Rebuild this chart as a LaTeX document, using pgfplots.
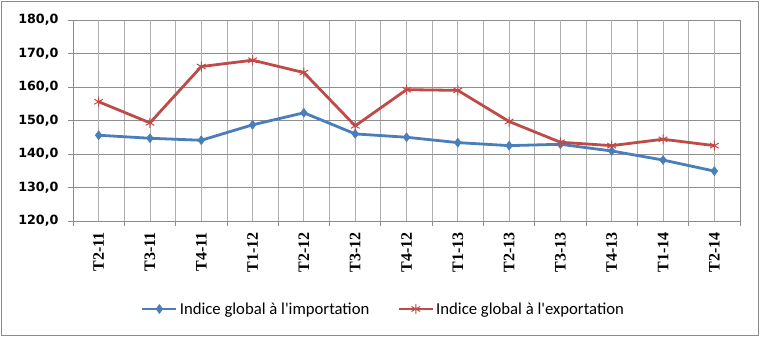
\documentclass[border=0pt]{standalone}
\usepackage{fontspec}
\setmainfont{Carlito}[Ligatures=TeXOff]
\newfontfamily\dvs{DejaVu Sans}
\newfontfamily\lser{Liberation Serif}
\usepackage{pgfplots}
\usepackage{pgfplotstable}
\pgfplotsset{compat=1.18}
\definecolor{impblue}{HTML}{4A7EBB}
\definecolor{expred}{HTML}{BE4B48}
\definecolor{hgrid}{HTML}{8E8E8E}
\definecolor{vgrid}{HTML}{B0B0B0}
\definecolor{framegray}{HTML}{8C8C8C}

\pgfplotstableread{
x imp exp
0 145.6 155.6
1 144.7 149.3
2 144.1 166.1
3 148.7 168.0
4 152.3 164.3
5 146.0 148.4
6 145.0 159.2
7 143.4 159.0
8 142.5 149.7
9 142.9 143.5
10 140.9 142.5
11 138.2 144.4
12 134.9 142.5
}\datatable

\begin{document}
\begin{tikzpicture}
\useasboundingbox (0pt,0pt) rectangle (761pt,337pt);
\draw[framegray, line width=1pt] (1.5pt,1.5pt) rectangle (758.5pt,335.5pt);
\begin{axis}[
  at={(73pt,116pt)}, anchor=south west,
  width=667pt, height=201pt, scale only axis,
  xmin=-0.5, xmax=12.5, ymin=120, ymax=180,
  ytick={120,130,...,180},
  xtick={-0.5,0.5,...,12.5}, xticklabels={},
  extra x ticks={0,1,...,12},
  extra x tick labels={T2-11,T3-11,T4-11,T1-12,T2-12,T3-12,T4-12,T1-13,T2-13,T3-13,T4-13,T1-14,T2-14},
  extra x tick style={major tick length=0pt, grid=major,
    tick label style={rotate=90, anchor=east, xshift=-8pt,
      font=\lser\bfseries\fontsize{16}{17}\selectfont}},
  tick pos=left, tick align=outside, major tick length=5pt,
  tick style={framegray, line width=0.8pt},
  axis line style={framegray, line width=0.8pt},
  xmajorgrids, ymajorgrids,
  major x grid style={vgrid, line width=0.8pt},
  major y grid style={hgrid, line width=0.8pt},
  /pgf/number format/assume math mode=true,
  y tick label style={font=\dvs\bfseries\fontsize{12.7}{14}\selectfont, xshift=-6pt,
    /pgf/number format/.cd, fixed, fixed zerofill, precision=1, use comma},
  legend style={at={(0.4655,-0.4378)}, anchor=center, draw=none, fill=none,
    font=\fontsize{16.7}{18}\selectfont,
    /tikz/every even column/.append style={column sep=26pt}},
  legend columns=2,
  legend image code/.code={\draw[mark repeat=2,mark phase=2] plot coordinates {(0pt,0pt) (17pt,0pt) (34pt,0pt)};},
]
\addplot[impblue, line width=2.8pt, mark=diamond*, mark size=4.5pt,
  mark options={solid, fill=impblue, draw=impblue, line width=0.5pt}]
  table[x=x, y=imp] {\datatable};
\addlegendentry{Indice global à l'importation}
\addplot[expred, line width=2.8pt, mark=asterisk, mark size=5pt,
  mark options={solid, draw=expred, line width=1pt}]
  table[x=x, y=exp] {\datatable};
\addlegendentry{Indice global à l'exportation}
\end{axis}
\end{tikzpicture}
\end{document}
